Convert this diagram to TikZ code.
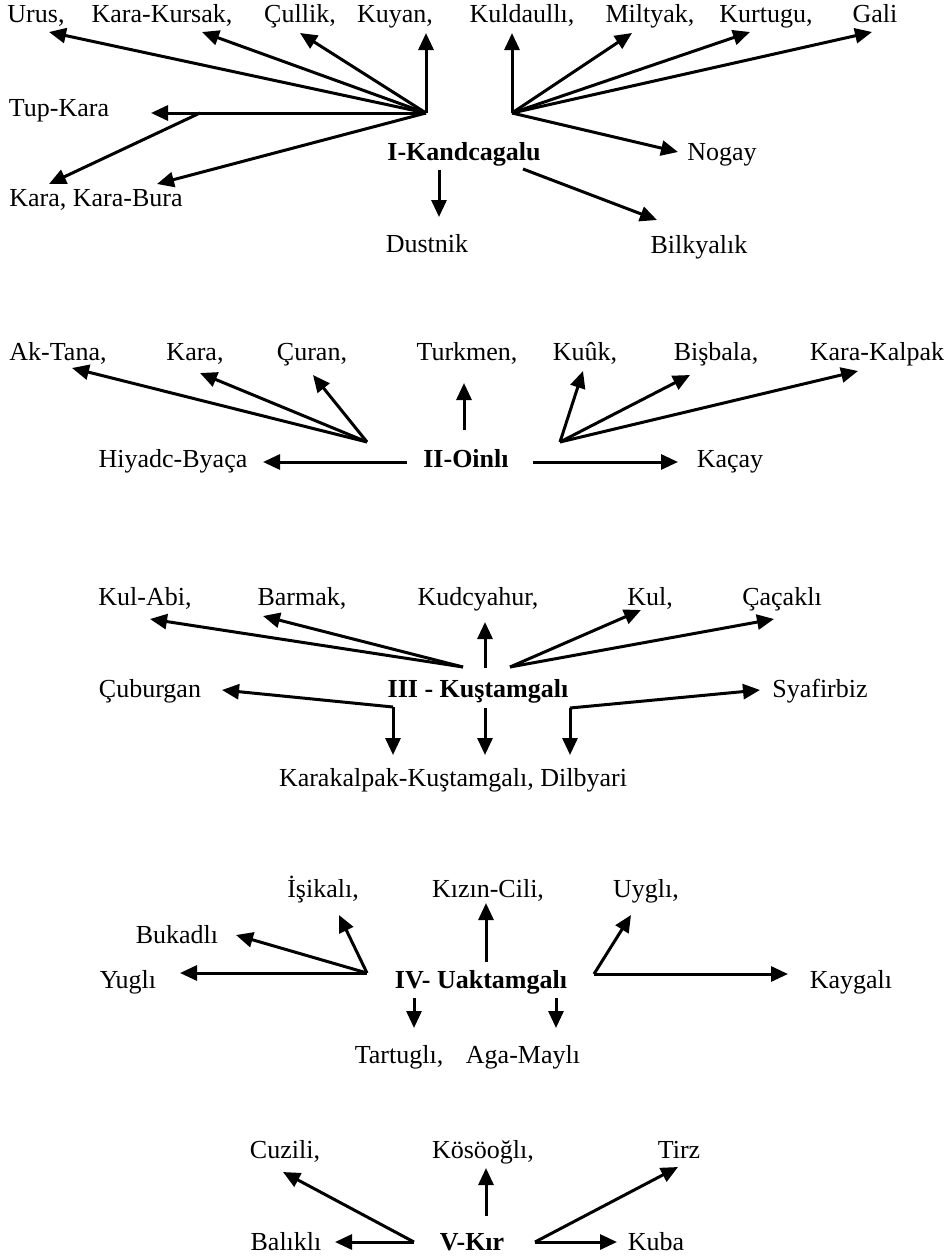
\documentclass[tikz,border=0pt]{standalone}
\usepackage{fontspec}
\setmainfont{Liberation Serif}
\usetikzlibrary{arrows.meta}
\tikzset{
  arr/.style={line width=3pt, -{Triangle[length=17pt,width=15pt]}},
  lab/.style={anchor=base, inner sep=0pt, font=\fontsize{26}{30}\selectfont},
  hub/.style={anchor=base, inner sep=0pt, font=\fontsize{26}{30}\selectfont\bfseries}
}
\begin{document}
\begin{tikzpicture}[x=1pt,y=-1pt]
\useasboundingbox (0,0) rectangle (952,1258);
% ---------- Section I ----------
\node[lab] (urus) at (36,23) {Urus,};
\node[lab] (karakursak) at (162,23) {Kara-Kursak,};
\node[lab] (cullik) at (300,23) {Çullik,};
\node[lab] (kuyan) at (395,23) {Kuyan,};
\node[lab] (kuldaulli) at (522,23) {Kuldaullı,};
\node[lab] (miltyak) at (650,23) {Miltyak,};
\node[lab] (kurtugu) at (766,23) {Kurtugu,};
\node[lab] (gali) at (875,23) {Gali};
\node[lab] (tupkara) at (59,116) {Tup-Kara};
\node[lab] (karabura) at (96,206) {Kara, Kara-Bura};
\node[hub] (kand) at (464,160) {I-Kandcagalu};
\node[lab] (nogay) at (722,160) {Nogay};
\node[lab] (dustnik) at (427,252) {Dustnik};
\node[lab] (bilk) at (699,253) {Bilkyalık};
\coordinate (h1l) at (426,113);
\coordinate (h1r) at (512,113);
\coordinate (h1m) at (200,113);
\draw[arr] (h1l) -- (49,32);
\draw[arr] (h1l) -- (202,32);
\draw[arr] (h1l) -- (300,33);
\draw[arr] (h1l) -- (426,33);
\draw[arr] (h1l) -- (151,113);
\draw[arr] (h1m) -- (49,184);
\draw[arr] (h1l) -- (157,184);
\draw[arr] (439,170) -- (439,217);
\draw[arr] (h1r) -- (512,33);
\draw[arr] (h1r) -- (632,33);
\draw[arr] (h1r) -- (750,32);
\draw[arr] (h1r) -- (872,32);
\draw[arr] (h1r) -- (678,152);
\draw[arr] (523,169) -- (657,220);
% ---------- Section II ----------
\node[lab] (aktana) at (58,360) {Ak-Tana,};
\node[lab] (kara2) at (195,360) {Kara,};
\node[lab] (curan) at (312,360) {Çuran,};
\node[lab] (turkmen) at (467,360) {Turkmen,};
\node[lab] (kuuk) at (585,360) {Kuûk,};
\node[lab] (bisbala) at (716,360) {Bişbala,};
\node[lab] (karakalpak) at (877,360) {Kara-Kalpak};
\node[lab] (hiyadc) at (173,467) {Hiyadc-Byaça};
\node[hub] (oinli) at (466,467) {II-Oinlı};
\node[lab] (kacay) at (730,467) {Kaçay};
\coordinate (h2l) at (367,442);
\coordinate (h2r) at (560,442);
\draw[arr] (h2l) -- (72,368);
\draw[arr] (h2l) -- (200,373);
\draw[arr] (h2l) -- (313,375);
\draw[arr] (464,430) -- (464,383);
\draw[arr] (407,462) -- (263,462);
\draw[arr] (h2r) -- (583,371);
\draw[arr] (h2r) -- (690,375);
\draw[arr] (h2r) -- (858,371);
\draw[arr] (533,462) -- (678,462);
% ---------- Section III ----------
\node[lab] (kulabi) at (145,605) {Kul-Abi,};
\node[lab] (barmak) at (302,605) {Barmak,};
\node[lab] (kudcyahur) at (478,605) {Kudcyahur,};
\node[lab] (kul) at (650,605) {Kul,};
\node[lab] (cacakli) at (782,605) {Çaçaklı};
\node[lab] (cuburgan) at (150,697) {Çuburgan};
\node[hub] (kustam) at (478,697) {III - Kuştamgalı};
\node[lab] (syafirbiz) at (820,697) {Syafirbiz};
\node[lab] (karakk) at (453,786) {Karakalpak-Kuştamgalı, Dilbyari};
\coordinate (h3l) at (463,667);
\coordinate (h3r) at (510,667);
\coordinate (c3l) at (393,707);
\coordinate (c3r) at (570,708);
\draw[arr] (h3l) -- (150,619);
\draw[arr] (h3l) -- (263,616);
\draw[arr] (485,668) -- (485,622);
\draw[arr] (h3r) -- (641,610);
\draw[arr] (h3r) -- (774,619);
\draw[arr] (c3l) -- (222,690);
\draw[arr] (c3l) -- (393,755);
\draw[arr] (485,708) -- (485,755);
\draw[arr] (c3r) -- (760,690);
\draw[arr] (c3r) -- (570,755);
% ---------- Section IV ----------
\node[lab] (isikali) at (323,897) {İşikalı,};
\node[lab] (kizin) at (488,897) {Kızın-Cili,};
\node[lab] (uygli) at (646,897) {Uyglı,};
\node[lab] (bukadli) at (177,943) {Bukadlı};
\node[lab] (yugli) at (128,988) {Yuglı};
\node[hub] (uaktam) at (481,988) {IV- Uaktamgalı};
\node[lab] (kaygali) at (851,988) {Kaygalı};
\node[lab] (tartugli) at (399,1063) {Tartuglı,};
\node[lab] (agamayli) at (523,1063) {Aga-Maylı};
\coordinate (h4l) at (367,973);
\coordinate (h4r) at (594,974);
\draw[arr] (h4l) -- (180,973);
\draw[arr] (h4l) -- (236,935);
\draw[arr] (h4l) -- (339,915);
\draw[arr] (486,962) -- (486,903);
\draw[arr] (h4r) -- (631,915);
\draw[arr] (h4r) -- (788,974);
\draw[arr] (414,998) -- (414,1028);
\draw[arr] (556,998) -- (556,1028);
% ---------- Section V ----------
\node[lab] (cuzili) at (285,1158) {Cuzili,};
\node[lab] (kosooglu) at (483,1158) {Kösöoğlı,};
\node[lab] (tirz) at (679,1158) {Tirz};
\node[lab] (balikli) at (286,1250) {Balıklı};
\node[hub] (vkir) at (472,1250) {V-Kır};
\node[lab] (kuba) at (656,1250) {Kuba};
\coordinate (h5l) at (414,1242);
\coordinate (h5r) at (535,1242);
\draw[arr] (h5l) -- (283,1172);
\draw[arr] (h5l) -- (335,1242);
\draw[arr] (486,1216) -- (486,1168);
\draw[arr] (h5r) -- (678,1167);
\draw[arr] (h5r) -- (617,1242);
\end{tikzpicture}
\end{document}
